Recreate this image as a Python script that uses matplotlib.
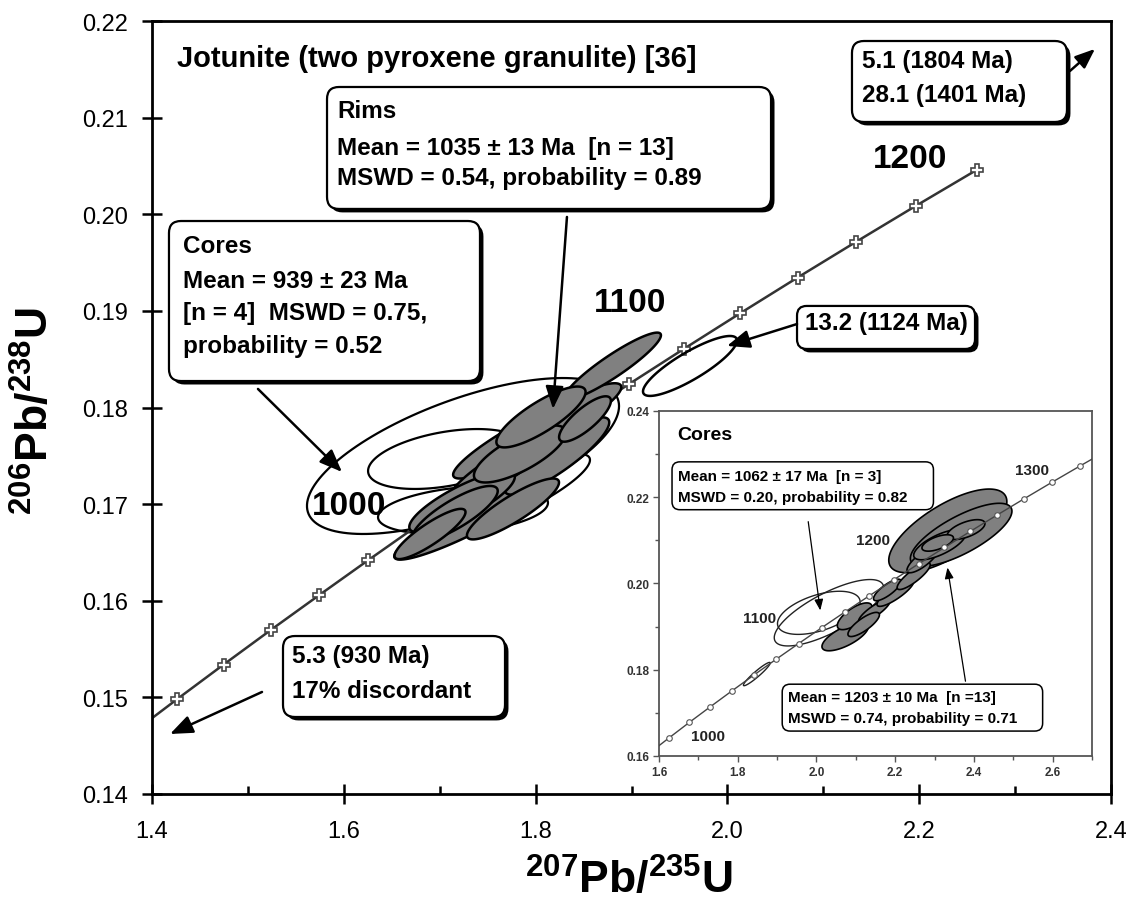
import matplotlib
matplotlib.use('Agg')
import matplotlib.pyplot as plt
import numpy as np
from matplotlib.patches import Polygon, FancyBboxPatch
import matplotlib.patheffects as pe

plt.rcParams['font.family'] = ['Liberation Sans', 'DejaVu Sans']
plt.rcParams['mathtext.fontset'] = 'custom'
plt.rcParams['mathtext.bf'] = 'Liberation Sans:bold'
plt.rcParams['mathtext.rm'] = 'Liberation Sans'

# concordia points (880-1200 Ma, 20 Ma steps) for the main plot
conc_x = [1.3790, 1.4264, 1.4746, 1.5238, 1.5740, 1.6252, 1.6774, 1.7307, 1.7850,
          1.8404, 1.8969, 1.9545, 2.0133, 2.0732, 2.1344, 2.1967, 2.2603]
conc_y = [0.14627, 0.14983, 0.15339, 0.15697, 0.16056, 0.16418, 0.16782, 0.17144, 0.17508,
          0.17873, 0.18239, 0.18606, 0.18975, 0.19345, 0.19716, 0.20088, 0.20461]
conc_lab = ['1000', '1100', '1200']
conc_lab_x = [1.6054, 1.8984, 2.1904]
conc_lab_y = [0.16981, 0.19082, 0.20582]

# rims (grey ellipses): centre, half extents, correlation
rim_x = [1.7326, 1.7910, 1.8254, 1.8807, 1.8223, 1.7764, 1.7629, 1.7233, 1.7837, 1.7160, 1.8056, 1.8515, 1.6899]
rim_y = [0.16846, 0.17705, 0.17881, 0.18430, 0.17498, 0.16950, 0.17364, 0.17022, 0.17519, 0.16898, 0.17902, 0.17881, 0.16691]
rim_sx = [0.0800, 0.0770, 0.0640, 0.0500, 0.0545, 0.0480, 0.0530, 0.0550, 0.0480, 0.0445, 0.0465, 0.0270, 0.0370]
rim_sy = [0.00420, 0.00440, 0.00370, 0.00345, 0.00400, 0.00315, 0.00345, 0.00315, 0.00295, 0.00290, 0.00315, 0.00235, 0.00260]
rim_rho = [0.92, 0.91, 0.89, 0.92, 0.87, 0.87, 0.87, 0.82, 0.75, 0.82, 0.82, 0.80, 0.87]

# cores (open ellipses)
core_x = [1.7243, 1.7066, 1.7243, 1.7785]
core_y = [0.17498, 0.17467, 0.16939, 0.17105]
core_sx = [0.1627, 0.0813, 0.0886, 0.0782]
core_sy = [0.00807, 0.00310, 0.00248, 0.00414]
core_rho = [0.64, 0.40, 0.30, 0.85]

# discordant grain 13.2
disc_x, disc_y, disc_sx, disc_sy, disc_rho = 1.9610, 0.18430, 0.049, 0.0031, 0.85

# inset: concordia 960-1340 Ma
ins_x = [1.5740, 1.6252, 1.6774, 1.7307, 1.7850, 1.8404, 1.8969, 1.9545, 2.0133, 2.0732,
         2.1344, 2.1967, 2.2603, 2.3252, 2.3913, 2.4588, 2.5276, 2.5977, 2.6693, 2.7423]
ins_y = [0.16056, 0.16418, 0.16782, 0.17144, 0.17508, 0.17873, 0.18239, 0.18606, 0.18975, 0.19345,
         0.19716, 0.20088, 0.20461, 0.20835, 0.21211, 0.21587, 0.21965, 0.22344, 0.22724, 0.23105]
ins_lab = ['1000', '1100', '1200', '1300']
ins_lab_x = [1.7255, 1.8553, 2.1428, 2.5483]
ins_lab_y = [0.16455, 0.19207, 0.21001, 0.22636]

ins_rim_x = [2.3337, 2.3676, 2.073, 2.097, 2.147, 2.120, 2.2005, 2.180, 2.247, 2.270, 2.313, 2.380, 2.308]
ins_rim_y = [0.2122, 0.2113, 0.1877, 0.1924, 0.1936, 0.1905, 0.1978, 0.1985, 0.2017, 0.2055, 0.2090, 0.2125, 0.2094]
ins_rim_sx = [0.150, 0.129, 0.059, 0.044, 0.040, 0.040, 0.0466, 0.035, 0.042, 0.040, 0.066, 0.048, 0.040]
ins_rim_sy = [0.0097, 0.0073, 0.0033, 0.0031, 0.0027, 0.0028, 0.0031, 0.0025, 0.0031, 0.0030, 0.0035, 0.0023, 0.0019]
ins_rim_rho = [0.70, 0.75, 0.70, 0.70, 0.85, 0.80, 0.85, 0.80, 0.85, 0.80, 0.70, 0.60, 0.60]

ins_core_x = [2.0318, 2.0060, 1.8485]
ins_core_y = [0.19322, 0.19320, 0.17900]
ins_core_sx = [0.139, 0.105, 0.034]
ins_core_sy = [0.0077, 0.0050, 0.0027]
ins_core_rho = [0.75, 0.50, 0.95]


def draw_ell(ax, x, y, sx, sy, rho, fc, ec, lw, z):
    t = np.linspace(0, 2 * np.pi, 150)
    ex = x + sx * np.cos(t)
    ey = y + sy * (rho * np.cos(t) + np.sqrt(1 - rho ** 2) * np.sin(t))
    ax.add_patch(Polygon(np.column_stack([ex, ey]), closed=True, fc=fc, ec=ec, lw=lw, zorder=z))


def rbox(ax, x0, y0, x1, y1, asp, r, lw, shadow):
    p = FancyBboxPatch((x0, y0), x1 - x0, y1 - y0,
                       boxstyle='round,pad=0,rounding_size=%g' % r,
                       mutation_aspect=asp, fc='white', ec='black', lw=lw, zorder=5)
    if shadow:
        p.set_path_effects([pe.withSimplePatchShadow(offset=(2.5, -2.5), shadow_rgbFace='black', alpha=1.0)])
    ax.add_patch(p)


def lines(ax, x, ys, texts, size):
    for yy, s in zip(ys, texts):
        ax.text(x, yy, s, fontsize=size, fontweight='bold', ha='left', va='baseline', zorder=6)


def arrow(ax, start, tip, lw, ms):
    ax.annotate('', xy=tip, xytext=start,
                arrowprops=dict(arrowstyle='-|>,head_length=0.55,head_width=0.22', color='black',
                                lw=lw, shrinkA=0, shrinkB=0, mutation_scale=ms), zorder=6)


fig = plt.figure(figsize=(11.26, 9.04), dpi=100)
ax = fig.add_axes([152 / 1126, 109 / 904, 959 / 1126, 773 / 904])
ax.set_xlim(1.4, 2.4)
ax.set_ylim(0.14, 0.22)

# main concordia
ax.plot(conc_x, conc_y, color='#333333', lw=1.8, marker='P', ms=9, mfc='white', mec='#444444',
        mew=1.2, zorder=2)
for s, lx, ly in zip(conc_lab, conc_lab_x, conc_lab_y):
    ax.text(lx, ly, s, fontsize=24, fontweight='bold', ha='center', va='center', zorder=4)

for i in range(len(core_x)):
    draw_ell(ax, core_x[i], core_y[i], core_sx[i], core_sy[i], core_rho[i], 'none', 'black', 1.6, 1)
for i in range(len(rim_x)):
    draw_ell(ax, rim_x[i], rim_y[i], rim_sx[i], rim_sy[i], rim_rho[i], '#808080', 'black', 1.8, 3)
draw_ell(ax, disc_x, disc_y, disc_sx, disc_sy, disc_rho, 'none', 'black', 1.8, 3)

ax.text(1.4261, 0.21535, 'Jotunite (two pyroxene granulite) [36]', fontsize=21, fontweight='bold',
        ha='left', va='baseline')

asp = 959 / 9662
rbox(ax, 1.5825, 0.20055, 2.0455, 0.21317, asp, 0.0125, 1.6, True)
lines(ax, 1.5929, [0.21007, 0.20624, 0.20313],
      ['Rims', 'Mean = 1035 ± 13 Ma  [n = 13]', 'MSWD = 0.54, probability = 0.89'], 17.5)
rbox(ax, 1.4177, 0.18274, 1.7420, 0.19930, asp, 0.0125, 1.6, True)
lines(ax, 1.4323, [0.19610, 0.19247, 0.18916, 0.18575],
      ['Cores', 'Mean = 939 ± 23 Ma', '[n = 4]  MSWD = 0.75,', 'probability = 0.52'], 17.5)
rbox(ax, 2.1299, 0.20955, 2.3541, 0.21793, asp, 0.0125, 1.6, True)
lines(ax, 2.1404, [0.21524, 0.21172], ['5.1 (1804 Ma)', '28.1 (1401 Ma)'], 17.5)
rbox(ax, 1.5366, 0.14797, 1.7681, 0.15635, asp, 0.0125, 1.6, True)
lines(ax, 1.5460, [0.15366, 0.15004], ['5.3 (930 Ma)', '17% discordant'], 17.5)
rbox(ax, 2.0726, 0.18606, 2.2582, 0.19051, asp, 0.0100, 1.6, True)
lines(ax, 2.0809, [0.18813], ['13.2 (1124 Ma)'], 17.5)

arrow(ax, (1.8327, 0.19972), (1.8181, 0.17985), 1.8, 25)
arrow(ax, (1.5105, 0.18192), (1.5981, 0.17333), 1.8, 25)
arrow(ax, (1.5147, 0.15056), (1.4188, 0.14621), 1.8, 25)
arrow(ax, (2.0726, 0.18864), (1.9996, 0.18637), 1.8, 25)
arrow(ax, (2.3572, 0.21483), (2.3833, 0.21711), 1.8, 22)

ax.set_xticks(np.arange(1.4, 2.41, 0.2))
ax.set_xticks(np.arange(1.5, 2.4, 0.2), minor=True)
ax.set_xticklabels(['%.1f' % v for v in np.arange(1.4, 2.41, 0.2)])
ax.set_yticks(np.arange(0.14, 0.2201, 0.01))
ax.set_yticklabels(['%.2f' % v for v in np.arange(0.14, 0.2201, 0.01)])
ax.tick_params(axis='both', which='major', direction='inout', width=1.8, labelsize=17, colors='black')
ax.tick_params(axis='y', which='major', length=14, pad=10)
ax.tick_params(axis='x', which='major', length=15, pad=11)
ax.tick_params(axis='x', which='minor', direction='in', length=6, width=1.8)
for sp in ax.spines.values():
    sp.set_linewidth(2)

ax.set_xlabel(r'$\mathbf{^{207}Pb/^{235}U}$', fontsize=32)
ax.xaxis.set_label_coords(0.497, -0.082)
ax.set_ylabel(r'$\mathbf{^{206}Pb/^{238}U}$', fontsize=32)
ax.yaxis.set_label_coords(-0.098, 0.497)

# inset
ax2 = fig.add_axes([659 / 1126, 147 / 904, 433 / 1126, 345 / 904])
ax2.set_facecolor('white')
ax2.set_xlim(1.6, 2.7)
ax2.set_ylim(0.16, 0.24)
for i in range(len(ins_core_x)):
    draw_ell(ax2, ins_core_x[i], ins_core_y[i], ins_core_sx[i], ins_core_sy[i], ins_core_rho[i],
             'none', '#222222', 1.0, 1)
for i in range(len(ins_rim_x)):
    draw_ell(ax2, ins_rim_x[i], ins_rim_y[i], ins_rim_sx[i], ins_rim_sy[i], ins_rim_rho[i],
             '#808080', 'black', 1.2, 2)
ax2.plot(ins_x, ins_y, color='#444444', lw=1.0, marker='o', ms=4, mfc='white', mec='#555555',
         mew=0.8, zorder=3)
for s, lx, ly in zip(ins_lab, ins_lab_x, ins_lab_y):
    ax2.text(lx, ly, s, fontsize=11, fontweight='bold', color='#222222', ha='center', va='center', zorder=4)
ax2.text(1.6458, 0.23353, 'Cores', fontsize=14, fontweight='bold', ha='left', va='baseline')

asp2 = 393 / 4325
rbox(ax2, 1.6331, 0.21711, 2.2972, 0.22821, asp2, 0.02, 1.1, False)
lines(ax2, 1.6483, [0.22405, 0.21919],
      ['Mean = 1062 ± 17 Ma  [n = 3]', 'MSWD = 0.20, probability = 0.82'], 11)
rbox(ax2, 1.9130, 0.16578, 2.5746, 0.17665, asp2, 0.02, 1.1, False)
lines(ax2, 1.9282, [0.17272, 0.16786],
      ['Mean = 1203 ± 10 Ma  [n =13]', 'MSWD = 0.74, probability = 0.71'], 11)
arrow(ax2, (1.9791, 0.21434), (2.0097, 0.19376), 0.9, 12)
arrow(ax2, (2.3786, 0.17734), (2.3328, 0.20370), 0.9, 12)

ax2.set_xticks(np.arange(1.6, 2.61, 0.2))
ax2.set_xticks(np.arange(1.7, 2.7, 0.2), minor=True)
ax2.set_xticklabels(['%.1f' % v for v in np.arange(1.6, 2.61, 0.2)], fontweight='bold')
ax2.set_yticks(np.arange(0.16, 0.2401, 0.02))
ax2.set_yticks(np.arange(0.17, 0.24, 0.02), minor=True)
ax2.set_yticklabels(['%.2f' % v for v in np.arange(0.16, 0.2401, 0.02)], fontweight='bold')
ax2.tick_params(axis='both', which='both', direction='out', width=1.0, color='#555555',
                labelsize=8.5, labelcolor='#333333', pad=3)
ax2.tick_params(which='major', length=4)
ax2.tick_params(which='minor', length=3)
for sp in ax2.spines.values():
    sp.set_linewidth(1.3)
    sp.set_color('#555555')

fig.savefig('out.png', dpi=100)
